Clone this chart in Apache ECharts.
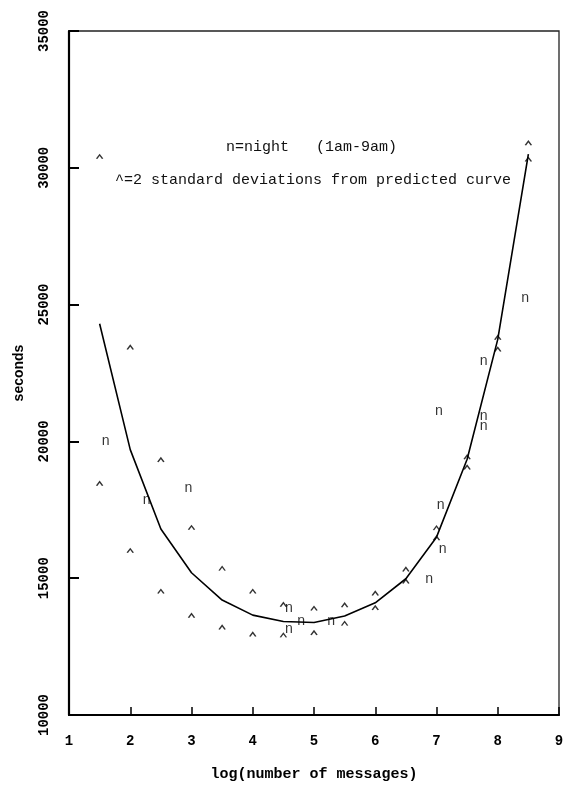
<!DOCTYPE html>
<html>
<head>
<meta charset="utf-8">
<script src="https://cdn.jsdelivr.net/npm/echarts@6/dist/echarts.min.js"></script>
<style>
  html, body { margin: 0; padding: 0; background: #fff; }
  #chart { width: 568px; height: 787px; }
</style>
</head>
<body>
<div id="chart"></div>
<script>
// log(number of messages) at which the model is evaluated
const logMessages = [1.5, 2, 2.5, 3, 3.5, 4, 4.5, 5, 5.5, 6, 6.5, 7, 7.5, 8, 8.5];
// predicted response time (seconds)
const predicted = [24300, 19700, 16800, 15200, 14200, 13650, 13420, 13380, 13620, 14100, 14980, 16500, 19350, 23730, 30500];
// +/- 2 standard deviation bounds around the prediction
const upperBound = [30400, 23430, 19320, 16840, 15350, 14510, 14030, 13890, 14010, 14440, 15320, 16830, 19420, 23790, 30900];
const lowerBound = [18450, 16000, 14510, 13630, 13200, 12940, 12910, 13000, 13340, 13910, 14880, 16460, 19050, 23360, 30300];
// night runs (1am-9am)
const nightLog = [1.6, 2.27, 2.95, 4.59, 4.59, 4.79, 5.28, 6.88, 7.04, 7.07, 7.1, 7.77, 7.77, 7.77, 8.45];
const nightSeconds = [19960, 17820, 18260, 13850, 13100, 13400, 13400, 14920, 21060, 17630, 16010, 22880, 20870, 20510, 25190];

const mono = '"Liberation Mono", "DejaVu Sans Mono", monospace';

const curveData = logMessages.map((x, i) => [x, predicted[i]]);
const boundData = logMessages.map((x, i) => [x, upperBound[i]])
  .concat(logMessages.map((x, i) => [x, lowerBound[i]]));
const nightData = nightLog.map((x, i) => [x, nightSeconds[i]]);

const chart = echarts.init(document.getElementById('chart'), null, { renderer: 'canvas' });
chart.setOption({
  backgroundColor: '#fff',
  animation: false,
  grid: {
    left: 69, right: 9, top: 31, bottom: 70,
    show: true, borderColor: '#222', borderWidth: 1.3
  },
  xAxis: {
    type: 'value', min: 1, max: 9, interval: 1,
    axisLine: { show: true, lineStyle: { color: '#000', width: 2.2 } },
    axisTick: { show: true, inside: true, length: 8, lineStyle: { color: '#000', width: 1.5 } },
    axisLabel: { color: '#000', fontFamily: mono, fontWeight: 'bold', fontSize: 14, margin: 19 },
    splitLine: { show: false },
    name: 'log(number of messages)', nameLocation: 'middle', nameGap: 52,
    nameTextStyle: { color: '#000', fontFamily: mono, fontWeight: 'bold', fontSize: 15 }
  },
  yAxis: {
    type: 'value', min: 10000, max: 35000, interval: 5000,
    axisLine: { show: true, lineStyle: { color: '#000', width: 2.2 } },
    axisTick: { show: true, inside: true, length: 10, lineStyle: { color: '#000', width: 2 } },
    axisLabel: { color: '#000', fontFamily: mono, fontWeight: 'bold', fontSize: 14, rotate: 90, margin: 18,
                 showMinLabel: true, showMaxLabel: true, formatter: v => String(v) },
    splitLine: { show: false },
    name: 'seconds', nameLocation: 'middle', nameGap: 43, nameRotate: 90,
    nameTextStyle: { color: '#000', fontFamily: '"Liberation Sans", Arial, sans-serif', fontWeight: 'bold', fontSize: 14 }
  },
  graphic: [
    { type: 'text', left: 226, top: 140, silent: true,
      style: { text: 'n=night   (1am-9am)', fill: '#111', font: '15px ' + mono } },
    { type: 'text', left: 115, top: 173, silent: true,
      style: { text: '^=2 standard deviations from predicted curve', fill: '#111', font: '15px ' + mono } }
  ],
  series: [
    {
      name: 'predicted', type: 'line', data: curveData, smooth: false,
      showSymbol: false, symbol: 'none',
      lineStyle: { color: '#000', width: 1.6 }, z: 3
    },
    {
      name: 'bounds', type: 'scatter', data: boundData,
      symbol: 'path://M0,4 L3,0 L6,4', symbolSize: [6, 4],
      itemStyle: { color: 'rgba(0,0,0,0)', borderColor: '#000', borderWidth: 1.3 }, z: 4
    },
    {
      name: 'night', type: 'scatter', data: nightData,
      symbolSize: 1, itemStyle: { color: 'rgba(0,0,0,0)' },
      label: { show: true, formatter: 'n', position: 'inside', offset: [0, -1],
               color: '#000', fontFamily: mono, fontSize: 14 }, z: 5
    }
  ]
});
</script>
</body>
</html>
